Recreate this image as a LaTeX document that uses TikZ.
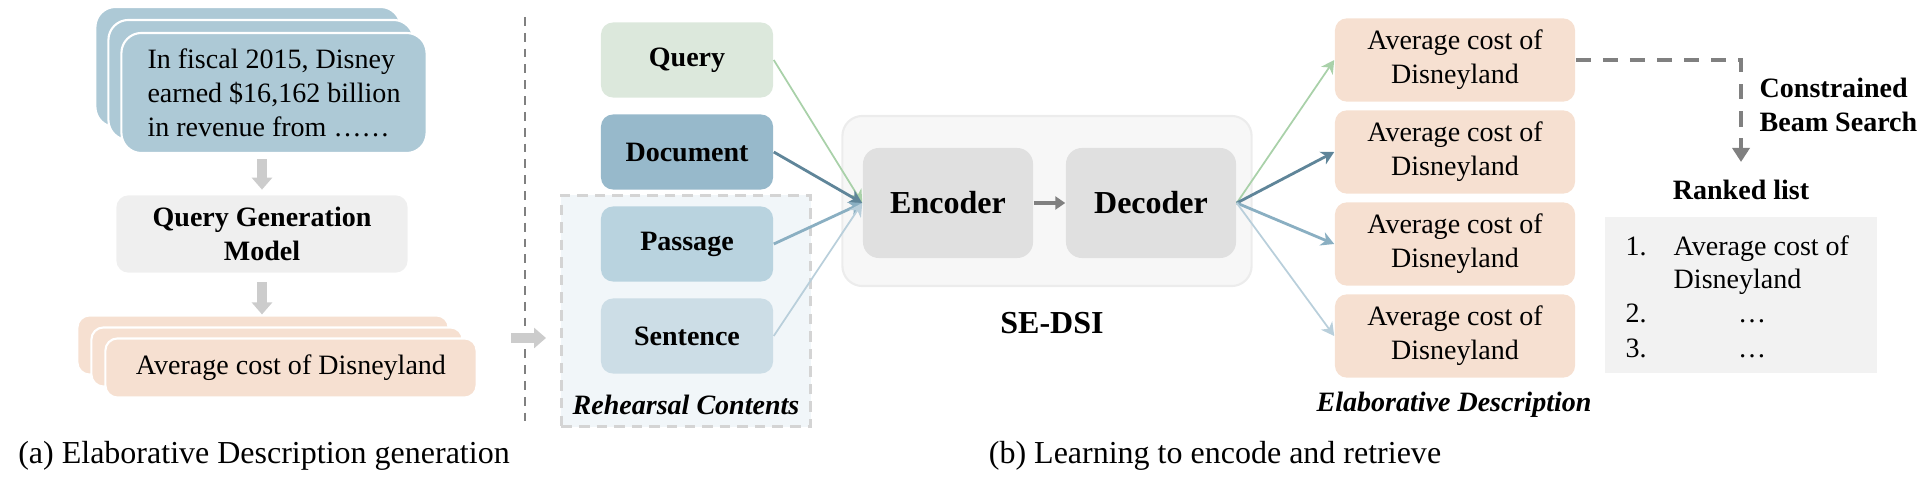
\documentclass[tikz,border=0pt]{standalone}
\usepackage{fontspec}
\setmainfont{Liberation Serif}
\usetikzlibrary{arrows.meta,positioning}

\definecolor{docblue}{HTML}{ADC9D6}
\definecolor{qgmgray}{HTML}{EFEFEF}
\definecolor{peach}{HTML}{F6E0D1}
\definecolor{qgreen}{HTML}{DCE8DC}
\definecolor{ddoc}{HTML}{97B9CB}
\definecolor{pasg}{HTML}{B9D3DF}
\definecolor{sent}{HTML}{CCDDE6}
\definecolor{rehfill}{HTML}{F1F6F9}
\definecolor{rehline}{HTML}{D4D4D4}
\definecolor{sefill}{HTML}{F7F7F7}
\definecolor{seline}{HTML}{ECECEC}
\definecolor{coderfill}{HTML}{E0E0E0}
\definecolor{agreen}{HTML}{A9D1A9}
\definecolor{adark}{HTML}{5F8599}
\definecolor{amid}{HTML}{8AAFC2}
\definecolor{alight}{HTML}{B9CFDB}
\definecolor{dgray}{HTML}{808080}
\definecolor{fatgray}{HTML}{CCCCCC}
\definecolor{listgray}{HTML}{F2F2F2}

\newcommand{\txt}{\fontsize{7.97pt}{9.7pt}\selectfont}
\newcommand{\lrg}{\fontsize{9.1pt}{10.5pt}\selectfont}

\tikzset{
	card/.style={rounded corners=0.2cm, minimum width=3.05cm, minimum height=1.2cm, fill=docblue, draw=white, line width=0.6pt, font=\txt},
	ocard/.style={rounded corners=0.12cm, minimum width=3.71cm, minimum height=0.59cm, fill=peach, draw=white, line width=0.6pt, font=\txt},
	gbox/.style={rounded corners=0.12cm, minimum width=2.91cm, minimum height=0.72cm, fill=qgmgray, font=\txt\bfseries, align=center},
	inbox/.style={rounded corners=0.12cm, minimum width=1.72cm, minimum height=0.75cm, font=\txt\bfseries},
	outbox/.style={rounded corners=0.12cm, minimum width=2.40cm, minimum height=0.76cm, fill=peach, font=\txt, align=center},
	coder/.style={rounded corners=0.16cm, minimum width=1.70cm, minimum height=1.10cm, fill=coderfill, font=\lrg\bfseries},
	fat/.style={fatgray, line width=2.6pt, -{Triangle[width=0.2cm, length=0.12cm]}},
	feed/.style={-{Stealth[length=0.13cm, width=0.14cm, inset=0.04cm]}},
	caplbl/.style={font=\lrg},
	itlbl/.style={font=\txt\bfseries\itshape},
	entry/.style={inner sep=0pt, font=\txt}
}

\begin{document}
\begin{tikzpicture}[x=0.01cm, y=-0.01cm]
	%\draw[help lines] (0,0) grid (1928,482);
	\useasboundingbox (0,0) rectangle (1928,482);

	\node[card] (doc3) at (248,67) {};
	\node[card] (doc2) at (261,80) {};
	\node[card, align=left] (doc1) at (274,93) {In fiscal 2015, Disney\\earned \$16,162 billion\\in revenue from ……};

	\node[gbox] (qgm) at (262,234) {Query Generation\\Model};

	\node[ocard] (ed3) at (263,345) {};
	\node[ocard] (ed2) at (277,357) {};
	\node[ocard] (ed1) at (291,368) {Average cost of Disneyland};

	\draw[fat] ([yshift=-0.05cm]qgm.north |- doc1.south) -- ([yshift=0.05cm]qgm.north);
	\draw[fat] ([yshift=-0.09cm]qgm.south) -- (qgm.south |- ed3.north);

	\node[caplbl] (capa) at (264,456) {(a) Elaborative Description generation};

	\draw[dgray, line width=0.4pt, dash pattern=on 2.5pt off 2pt] (525,17) -- (525,425);
	\coordinate (ga) at (511,338);
	\coordinate (gb) at (546,338);
	\draw[fat] (ga) -- (gb);

	\node[rounded corners=0, minimum width=2.49cm, minimum height=2.31cm, fill=rehfill, draw=rehline, line width=0.8pt, dash pattern=on 3pt off 2pt] (reh) at (686,311) {};
	\node[inbox, fill=qgreen] (query) at (687,60) {Query};
	\node[inbox, fill=ddoc] (document) at (687,152) {Document};
	\node[inbox, fill=pasg] (passage) at (687,244) {Passage};
	\node[inbox, fill=sent] (sentence) at (687,336) {Sentence};
	\node[itlbl] (rehlbl) at (686,405) {Rehearsal Contents};

	\node[rounded corners=0.2cm, minimum width=4.09cm, minimum height=1.70cm, fill=sefill, draw=seline, line width=0.6pt] (sedsi) at (1047,201) {};
	\node[coder] (encoder) at (948,203) {Encoder};
	\node[coder] (decoder) at (1151,203) {Decoder};
	\node[font=\lrg\bfseries] (sedsilbl) at (1052,323) {SE-DSI};

	\draw[feed, agreen, line width=0.5pt] (query.east) -- (encoder.west);
	\draw[feed, adark, line width=0.8pt] (document.east) -- (encoder.west);
	\draw[feed, amid, line width=0.8pt] (passage.east) -- (encoder.west);
	\draw[feed, alight, line width=0.5pt] (sentence.east) -- (encoder.west);
	\draw[dgray, line width=0.9pt, -{Triangle[width=0.13cm, length=0.1cm]}] (encoder.east) -- (decoder.west);

	\foreach \y/\n in {60/1,152/2,244/3,336/4}
		\node[outbox] (out\n) at (1455,\y) {Average cost of\\Disneyland};

	\draw[feed, agreen, line width=0.5pt] (decoder.east) -- (out1.west);
	\draw[feed, adark, line width=0.8pt] (decoder.east) -- (out2.west);
	\draw[feed, amid, line width=0.8pt] (decoder.east) -- (out3.west);
	\draw[feed, alight, line width=0.5pt] (decoder.east) -- (out4.west);

	\node[itlbl] (edlbl) at (1454,405) {Elaborative Description};
	\node[caplbl] (capb) at (1215,456) {(b) Learning to encode and retrieve};

	\node[font=\txt\bfseries] (ranked) at (1741,190) {Ranked list};
	\draw[dgray, line width=1pt, dash pattern=on 4.3pt off 3.4pt, -{Triangle[width=0.17cm, length=0.14cm]}] (out1.east) -| ([yshift=0.28cm]ranked.center);
	\node[font=\txt\bfseries, align=left, anchor=west, inner sep=0pt] (cbs) at (1759,105) {Constrained\\Beam Search};

	\node[minimum width=2.72cm, minimum height=1.55cm, fill=listgray] (rbox) at (1741,295) {};
	\node[entry, anchor=base west] (r1) at (1625,255) {1.};
	\node[entry, anchor=base west] (r1a) at (1673,255) {Average cost of};
	\node[entry, anchor=base west] (r1b) at (1673,288) {Disneyland};
	\node[entry, anchor=base west] (r2) at (1625,322) {2.};
	\node[entry, anchor=base] (r2d) at (1752,322) {…};
	\node[entry, anchor=base west] (r3) at (1625,357) {3.};
	\node[entry, anchor=base] (r3d) at (1752,357) {…};
\end{tikzpicture}
\end{document}
